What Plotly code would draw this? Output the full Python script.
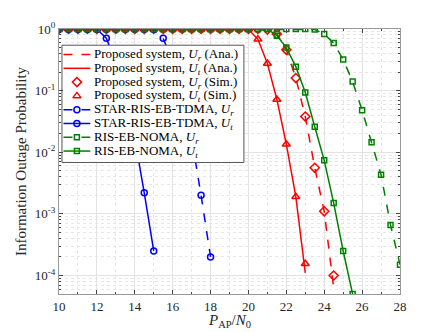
import plotly.graph_objects as go

# SNR grid (dB), 0.5 dB steps
snr_tdma_t = [10, 10.5, 11, 11.5, 12, 12.5, 13, 13.5, 14, 14.5, 15]
tdma_t = [1, 1, 1, 1, 0.99, 0.71, 0.28, 0.078, 0.017, 0.0022, 0.00025]

snr_tdma_r = [10, 10.5, 11, 11.5, 12, 12.5, 13, 13.5, 14, 14.5, 15, 15.5, 16, 16.5, 17, 17.5, 18]
tdma_r = [1, 1, 1, 1, 1, 1, 1, 1, 1, 1, 0.99, 0.71, 0.28, 0.075, 0.017, 0.0020, 0.00020]

snr_prop_t = [10, 10.5, 11, 11.5, 12, 12.5, 13, 13.5, 14, 14.5, 15, 15.5, 16, 16.5,
              17, 17.5, 18, 18.5, 19, 19.5, 20, 20.5, 21, 21.5, 22, 22.5, 23]
prop_t_ana = [1] * 20 + [0.99, 0.68, 0.275, 0.072, 0.0135, 0.0019, 0.00011]
prop_t_sim = [1] * 20 + [0.99, 0.68, 0.275, 0.072, 0.0135, 0.0019, 0.000155]

snr_prop_r = [10, 10.5, 11, 11.5, 12, 12.5, 13, 13.5, 14, 14.5, 15, 15.5, 16, 16.5,
              17, 17.5, 18, 18.5, 19, 19.5, 20, 20.5, 21, 21.5, 22, 22.5, 23, 23.5, 24, 24.5]
prop_r_ana = [1] * 22 + [0.98, 0.83, 0.46, 0.16, 0.038, 0.0056, 0.0011, 0.000063]
prop_r_sim = [1] * 22 + [0.98, 0.83, 0.46, 0.16, 0.038, 0.0056, 0.0011, 0.00010]

snr_noma_r = [10, 10.5, 11, 11.5, 12, 12.5, 13, 13.5, 14, 14.5, 15, 15.5, 16, 16.5, 17, 17.5, 18, 18.5,
              19, 19.5, 20, 20.5, 21, 21.5, 22, 22.5, 23, 23.5, 24, 24.5, 25, 25.5, 26, 26.5, 27, 27.5, 28]
noma_r = [1] * 27 + [0.98, 0.83, 0.59, 0.32, 0.14, 0.048, 0.0145, 0.0043, 0.00066, 0.00015]

snr_noma_t = [10, 10.5, 11, 11.5, 12, 12.5, 13, 13.5, 14, 14.5, 15, 15.5, 16, 16.5, 17, 17.5, 18,
              18.5, 19, 19.5, 20, 20.5, 21, 21.5, 22, 22.5, 23, 23.5, 24, 24.5, 25, 25.5]
noma_t = [1] * 23 + [0.78, 0.50, 0.245, 0.093, 0.026, 0.0074, 0.0015, 0.00025, 0.00005]

ytick_vals = [1, 0.1, 0.01, 0.001, 0.0001]
ytick_text = ["10<sup>0</sup>", "10<sup>-1</sup>", "10<sup>-2</sup>", "10<sup>-3</sup>", "10<sup>-4</sup>"]
xtick_vals = [10, 12, 14, 16, 18, 20, 22, 24, 26, 28]

RED = "#FF0000"
BLUE = "#0000FF"
GREEN = "#008000"
SERIF = "Liberation Serif"

Ur = "<i>U<sub>r</sub></i>"
Ut = "<i>U<sub>t</sub></i>"

# (label, colour, dash, marker symbol, marker size, has line, x, y)
series = [
    ("Proposed system, " + Ur + " (Ana.)", RED, "dash", None, 0, True, snr_prop_r, prop_r_ana),
    ("Proposed system, " + Ut + " (Ana.)", RED, "solid", None, 0, True, snr_prop_t, prop_t_ana),
    ("Proposed system, " + Ur + " (Sim.)", RED, "solid", "diamond-open", 7, False, snr_prop_r, prop_r_sim),
    ("Proposed system, " + Ut + " (Sim.)", RED, "solid", "triangle-up-open", 7, False, snr_prop_t, prop_t_sim),
    ("STAR-RIS-EB-TDMA, " + Ur, BLUE, "dash", "circle-open", 6, True, snr_tdma_r, tdma_r),
    ("STAR-RIS-EB-TDMA, " + Ut, BLUE, "solid", "circle-open", 6, True, snr_tdma_t, tdma_t),
    ("RIS-EB-NOMA, " + Ur, GREEN, "dash", "square-open", 5, True, snr_noma_r, noma_r),
    ("RIS-EB-NOMA, " + Ut, GREEN, "solid", "square-open", 5, True, snr_noma_t, noma_t),
]

fig = go.Figure()
for name, color, dash, symbol, size, has_line, xs, ys in series:
    if has_line and symbol:
        mode = "lines+markers"
    elif has_line:
        mode = "lines"
    else:
        mode = "markers"
    fig.add_trace(go.Scatter(
        x=xs, y=ys, mode=mode, name=name, showlegend=False,
        line=dict(color=color, width=1.5, dash=dash),
        marker=dict(symbol=symbol or "circle", color=color, size=size, line=dict(width=1.5)),
    ))

# hand-built legend on an overlay axis measured in pixels, so rows can be as tight as the original
fig.add_trace(go.Scatter(x=[60, 243, 243, 60, 60], y=[40.5, 40.5, 160, 160, 40.5],
                         xaxis="x2", yaxis="y2", mode="lines", fill="toself",
                         fillcolor="white", line=dict(color="#555", width=1),
                         showlegend=False, hoverinfo="skip"))
row_y0, row_step = 50, 14.05
for i, (name, color, dash, symbol, size, has_line, xs, ys) in enumerate(series):
    yy = row_y0 + i * row_step
    if has_line:
        fig.add_trace(go.Scatter(x=[61.5, 88.5], y=[yy, yy], xaxis="x2", yaxis="y2", mode="lines",
                                 line=dict(color=color, width=1.5, dash=dash),
                                 showlegend=False, hoverinfo="skip"))
    if symbol:
        fig.add_trace(go.Scatter(x=[75], y=[yy], xaxis="x2", yaxis="y2", mode="markers",
                                 marker=dict(symbol=symbol, color=color, size=size, line=dict(width=1.5)),
                                 showlegend=False, hoverinfo="skip"))
    fig.add_annotation(x=90.5, y=yy, xref="x2", yref="y2", text=name, showarrow=False,
                       xanchor="left", yanchor="middle",
                       font=dict(family=SERIF, size=13, color="black"))

fig.add_annotation(x=0.5, y=-(322 - 294) / 270, xref="paper", yref="paper",
                   text="<i>P</i><sub>AP</sub>/<i>N</i><sub>0</sub>", showarrow=False,
                   xanchor="center", yanchor="middle",
                   font=dict(family=SERIF, size=15, color="#262626"))

# page body adds an 8px margin, so the figure is laid out 8px up/left of the target
fig.update_layout(
    width=435, height=324,
    margin=dict(l=49, r=43, t=16, b=38),
    paper_bgcolor="white", plot_bgcolor="white",
    font=dict(family=SERIF, size=13, color="#262626"),
    showlegend=False,
    xaxis=dict(range=[10, 28], tickvals=xtick_vals, ticks="inside", ticklen=4,
               showline=True, mirror="ticks", linecolor="#999", linewidth=1,
               showgrid=True, gridcolor="#e3e3e3", zeroline=False,
               tickfont=dict(family=SERIF, size=13, color="#262626"),
               minor=dict(dtick=1, showgrid=True, gridcolor="#e6e6e6", griddash="dot",
                          ticks="inside", ticklen=2)),
    yaxis=dict(type="log", range=[-4.3, 0], tickvals=ytick_vals, ticktext=ytick_text,
               ticks="inside", ticklen=4,
               showline=True, mirror="ticks", linecolor="#999", linewidth=1,
               showgrid=True, gridcolor="#e3e3e3", zeroline=False,
               tickfont=dict(family=SERIF, size=13, color="#262626"),
               minor=dict(dtick="D1", showgrid=True, gridcolor="#e6e6e6", griddash="dot",
                          ticks="inside", ticklen=2),
               title=dict(text="Information Outage Probability", standoff=4,
                          font=dict(family=SERIF, size=15, color="#262626"))),
    xaxis2=dict(overlaying="x", range=[57, 400], visible=False, fixedrange=True),
    yaxis2=dict(overlaying="y", range=[294, 24], visible=False, fixedrange=True),
)

fig.write_html("out.html")
